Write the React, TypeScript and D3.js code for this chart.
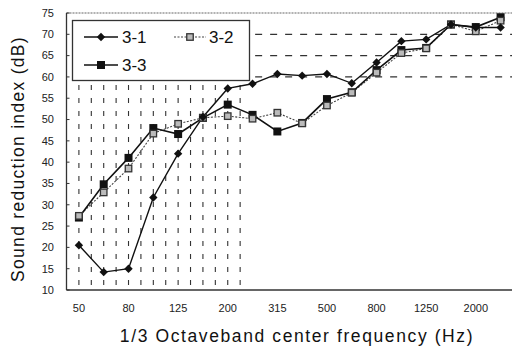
import React from 'react';
import * as d3 from 'd3';

// 1/3 octave band centre frequencies (Hz)
const freqs = ['50', '63', '80', '100', '125', '160', '200', '250', '315', '400', '500', '630', '800', '1000', '1250', '1600', '2000', '2500'];
const tickLabels = ['50', '80', '125', '200', '315', '500', '800', '1250', '2000'];
const yTicks = [10, 15, 20, 25, 30, 35, 40, 45, 50, 55, 60, 65, 70, 75];

const s31 = [20.5, 14.2, 15.0, 31.7, 42.0, 50.6, 57.3, 58.4, 60.7, 60.3, 60.7, 58.5, 63.4, 68.4, 68.8, 72.3, 71.6, 71.6];
const s32 = [27.4, 32.9, 38.5, 46.7, 49.0, 50.4, 50.8, 50.2, 51.6, 49.1, 53.3, 56.3, 61.0, 65.6, 66.7, 72.3, 70.7, 73.2];
const s33 = [27.0, 34.8, 41.0, 48.0, 46.6, 50.4, 53.5, 51.1, 47.2, 49.2, 54.8, 56.4, 61.6, 66.3, 66.8, 72.3, 71.7, 74.0];

const hGrid = [60, 65, 70];
const vGridSteps = d3.range(0, 7, 0.5);

const W = 512;
const H = 347;
const left = 66.5;
const right = 513;
const top = 13;
const bottom = 290;

const font = 'Arial, "Liberation Sans", sans-serif';

const Diamond = ({ cx, cy, r = 4.2 }: { cx: number; cy: number; r?: number }) => (
  <path d={`M${cx},${cy - r}L${cx + r},${cy}L${cx},${cy + r}L${cx - r},${cy}Z`} fill="#111" />
);
const FilledSq = ({ cx, cy, s = 8 }: { cx: number; cy: number; s?: number }) => (
  <rect x={cx - s / 2} y={cy - s / 2} width={s} height={s} fill="#111" />
);
const HollowSq = ({ cx, cy, s = 6.5 }: { cx: number; cy: number; s?: number }) => (
  <rect x={cx - s / 2} y={cy - s / 2} width={s} height={s} fill="#bbb" stroke="#333" strokeWidth={1.3} />
);

export default function App() {
  const x = d3.scaleBand<string>().domain(freqs).range([left, right]).padding(0);
  const bw = x.bandwidth();
  const cx = (i: number) => (x(freqs[0]) as number) + bw / 2 + i * bw;
  const y = d3.scaleLinear().domain([10, 75]).range([bottom, top]);

  const line = d3.line<number>().x((_, i) => cx(i)).y(d => y(d));
  const gridRight = cx(6.5);

  return (
    <svg width={W} height={H} style={{ position: 'absolute', left: 0, top: 0, background: '#fff' }}>
      {/* grid */}
      {vGridSteps.map(s => (
        <line key={'v' + s} x1={cx(s)} x2={cx(s)} y1={y(60) + 8} y2={bottom - 2}
          stroke="#333" strokeWidth={1.1} strokeDasharray="5 8" />
      ))}
      {hGrid.map(v => (
        <line key={'h' + v} x1={gridRight} x2={right} y1={y(v)} y2={y(v)}
          stroke="#333" strokeWidth={1.2} strokeDasharray="7 8" />
      ))}

      {/* frame */}
      <line x1={left} x2={right} y1={top} y2={top} stroke="#666" strokeWidth={1.2} strokeDasharray="2 1" />
      <line x1={left} x2={left} y1={top} y2={bottom} stroke="#333" strokeWidth={1.3} />
      <line x1={left} x2={right} y1={bottom} y2={bottom} stroke="#333" strokeWidth={1.3} />
      {yTicks.map(t => (
        <line key={'yt' + t} x1={left} x2={left + 3} y1={y(t)} y2={y(t)} stroke="#333" />
      ))}

      {/* y tick labels */}
      {yTicks.map(t => (
        <text key={'yl' + t} x={54} y={y(t)} dy="0.35em" textAnchor="end" fontFamily={font} fontSize={11} fill="#222">{t}</text>
      ))}
      {/* x tick labels */}
      {tickLabels.map(f => (
        <text key={'xl' + f} x={(x(f) as number) + bw / 2} y={312} textAnchor="middle" fontFamily={font} fontSize={11} fill="#222">{f}</text>
      ))}

      {/* series */}
      <path d={line(s32) as string} fill="none" stroke="#444" strokeWidth={1.1} strokeDasharray="2 1.5" />
      <path d={line(s31) as string} fill="none" stroke="#111" strokeWidth={1.4} />
      <path d={line(s33) as string} fill="none" stroke="#111" strokeWidth={1.6} />
      {s33.map((v, i) => <FilledSq key={'c' + i} cx={cx(i)} cy={y(v)} />)}
      {s32.map((v, i) => <HollowSq key={'b' + i} cx={cx(i)} cy={y(v)} />)}
      {s31.map((v, i) => <Diamond key={'a' + i} cx={cx(i)} cy={y(v)} />)}

      {/* legend */}
      <rect x={72.5} y={20.5} width={177} height={60} fill="#fff" stroke="#333" strokeWidth={1.3} />
      <line x1={84} x2={118} y1={37} y2={37} stroke="#111" strokeWidth={1.4} />
      <Diamond cx={101} cy={37} />
      <text x={122} y={37} dy="0.35em" fontFamily={font} fontSize={17} fill="#111">3-1</text>
      <line x1={174} x2={206} y1={37} y2={37} stroke="#444" strokeWidth={1.1} strokeDasharray="2 1.5" />
      <HollowSq cx={190} cy={37} />
      <text x={209} y={37} dy="0.35em" fontFamily={font} fontSize={17} fill="#111">3-2</text>
      <line x1={84} x2={118} y1={65} y2={65} stroke="#111" strokeWidth={1.6} />
      <FilledSq cx={101} cy={65} />
      <text x={122} y={65} dy="0.35em" fontFamily={font} fontSize={17} fill="#111">3-3</text>

      {/* axis titles */}
      <text transform={`translate(24,${159}) rotate(-90)`} textAnchor="middle"
        fontFamily={font} fontSize={17.5} letterSpacing={1.3} fill="#111">Sound reduction index (dB)</text>
      <text x={297} y={342} textAnchor="middle" fontFamily={font} fontSize={17.5} letterSpacing={1.6} fill="#111">
        1/3 Octaveband center frequency (Hz)
      </text>
    </svg>
  );
}
